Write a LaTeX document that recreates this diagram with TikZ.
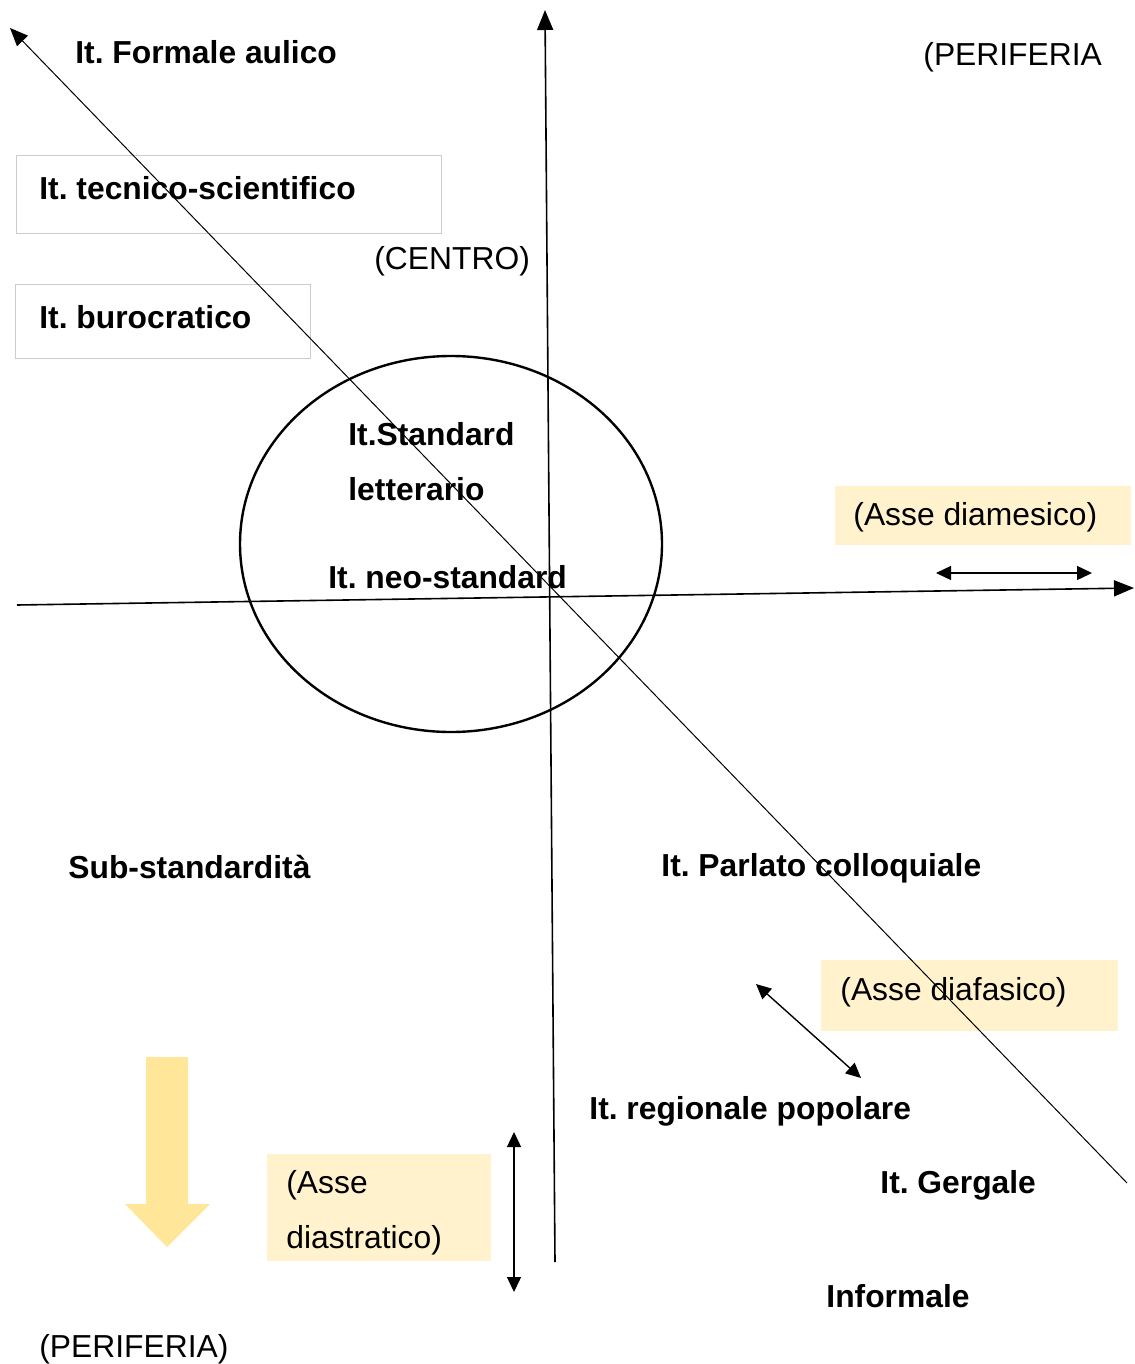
\documentclass[tikz,border=0pt]{standalone}
\usepackage{fontspec}
\setmainfont{Liberation Sans}
\usetikzlibrary{arrows.meta,shapes.geometric}
\definecolor{cream}{HTML}{FFF2CC}
\definecolor{gold}{HTML}{FFE699}
\definecolor{frame}{HTML}{CCCCCC}
\frenchspacing
\tikzset{
  lbl/.style={anchor=base west, inner sep=0pt, font=\fontsize{15.9}{18}\selectfont},
  blbl/.style={lbl, font=\fontsize{15.9}{18}\selectfont\bfseries},
  framebox/.style={draw=frame, line width=0.5pt, anchor=north west, inner sep=0pt},
  notebox/.style={fill=cream, anchor=north west, inner sep=0pt},
  axis/.style={line width=0.8pt, -{Triangle[length=10pt,width=8pt]}},
  diag/.style={line width=0.5pt, -{Triangle[length=9pt,width=7.5pt]}},
  twoway/.style={line width=0.7pt, {Triangle[length=7.5pt,width=7pt]}-{Triangle[length=7.5pt,width=7pt]}}
}
\begin{document}
\begin{tikzpicture}[x=0.5pt,y=-0.5pt]
\useasboundingbox (0,0) rectangle (1134,1364);

% framed boxes and coloured note boxes
\node[framebox, minimum width=212.5pt, minimum height=39pt] (boxtec) at (16,155) {};
\node[framebox, minimum width=147.5pt, minimum height=37pt] (boxbur) at (15,284) {};
\node[notebox, minimum width=148pt, minimum height=29.5pt] (boxdiam) at (835,486) {};
\node[notebox, minimum width=148.5pt, minimum height=35.5pt] (boxdiaf) at (821,960) {};
\node[notebox, minimum width=112pt, minimum height=53.5pt] (boxdiast) at (267,1154) {};

% central ellipse
\node[draw, ellipse, line width=1.2pt, minimum width=211pt, minimum height=188pt, inner sep=0pt] (centro) at (451,544) {};

% axes
\coordinate (hA) at (17,605);
\coordinate (hB) at (1134,588);
\coordinate (vA) at (555,1262);
\coordinate (vB) at (545,10);
\coordinate (dA) at (1127,1183);
\coordinate (dB) at (10,28);
\draw[axis] (hA) -- (hB);
\draw[axis] (vA) -- (vB);
\draw[diag] (dA) -- (dB);

% small two-way arrows
\coordinate (m1) at (936,573);
\coordinate (m2) at (1092,573);
\draw[twoway] (m1) -- (m2);
\coordinate (f1) at (756,984);
\coordinate (f2) at (861,1078);
\draw[twoway] (f1) -- (f2);
\coordinate (s1) at (514,1132);
\coordinate (s2) at (514,1292);
\draw[twoway] (s1) -- (s2);

% downward block arrow
\fill[gold] (146,1057) -- (188,1057) -- (188,1204) -- (210,1204) -- (167,1247)
  -- (125,1204) -- (146,1204) -- cycle;

% labels
\node[blbl] (aulico) at (75,64) {It. Formale aulico};
\node[lbl] (perif1) at (923,66) {(PERIFERIA};
\node[blbl] (tecnico) at (39,199) {It. tecnico-scientifico};
\node[lbl] (centrot) at (374,270) {(CENTRO)};
\node[blbl] (buro) at (39,328) {It. burocratico};
\node[blbl] (standard) at (348,445) {It.Standard};
\node[blbl] (letter) at (348,500) {letterario};
\node[blbl] (neo) at (328,588) {It. neo-standard};
\node[lbl] (diamesico) at (853,525) {(Asse diamesico)};
\node[blbl] (substd) at (68,878) {Sub-standardità};
\node[blbl] (parlato) at (661,876) {It. Parlato colloquiale};
\node[lbl] (diafasico) at (840,1000) {(Asse diafasico)};
\node[blbl] (regionale) at (589,1119) {It. regionale popolare};
\node[blbl] (gergale) at (880,1193) {It. Gergale};
\node[lbl] (asse) at (286,1193) {(Asse};
\node[lbl] (diastr) at (286,1248) {diastratico)};
\node[blbl] (informale) at (826,1307) {Informale};
\node[lbl] (perif2) at (39,1357) {(PERIFERIA)};
\end{tikzpicture}
\end{document}
